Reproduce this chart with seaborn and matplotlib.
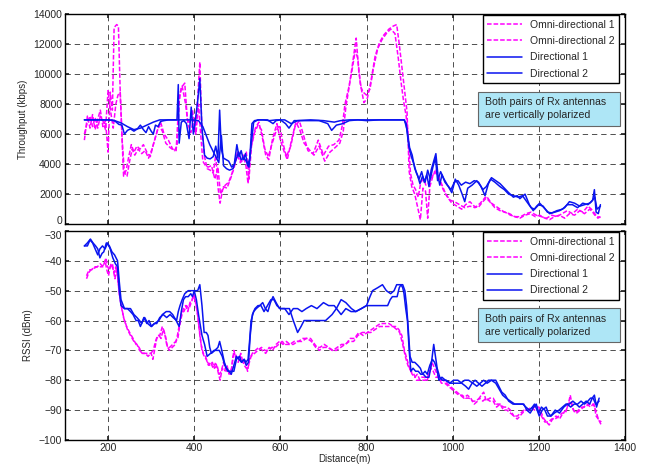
import pandas as pd
import matplotlib
matplotlib.use("Agg")
import matplotlib.pyplot as plt
from matplotlib.patches import Rectangle
import seaborn as sns

# ---------- DATA (distance m, value) ----------
thr_omni1 = [(145,5600),(152,7200),(158,6400),(164,7300),(170,6300),(176,7000),(182,7600),(188,6500),(194,6900),(200,4800),
    (205,8800),(210,7600),(214,13100),(220,13300),(224,13200),(228,9000),(232,6000),(236,3200),(242,3600),(248,4500),
    (254,5300),(260,4800),(267,5200),(274,5000),(282,5300),(290,4800),(298,4500),(306,5400),(314,6200),(322,6800),
    (330,6000),(340,5600),(350,5000),(358,4900),(364,8000),(370,9100),(378,9400),(384,7000),(390,6700),(396,7600),
    (402,6200),(408,8400),(413,10800),(418,6200),(424,4500),(430,3700),(437,3600),(444,3400),(450,4600),(455,2500),
    (460,1400),(466,2300),(472,2600),(480,2800),(488,3400),(496,4400),(502,4900),(508,4200),(514,4600),(520,3900),
    (525,2700),(530,4900),(536,5700),(542,6400),(550,6800),(558,5800),(566,4600),(573,4300),(582,5700),(592,6700),
    (600,5600),(608,4900),(616,4300),(626,5600),(636,6800),(645,6300),(655,5400),(666,5000),(678,4600),(690,5200),
    (703,4200),(715,4800),(727,5100),(738,5400),(746,6200),(752,7800),(760,9200),(768,10800),(776,12400),(782,10200),
    (788,9000),(794,8100),(802,8400),(810,9500),(820,11200),(830,12100),(840,12600),(852,13000),(862,13200),(870,13300),
    (876,12000),(882,10500),(888,9000),(894,7500),(899,3500),(905,2500),(912,2000),(918,1200),(925,300),(931,2400),
    (937,2200),(942,400),(947,2500),(954,3200),(962,3700),(970,2900),(978,2300),(988,1800),(998,1400),(1010,1200),
    (1021,1000),(1030,1300),(1040,1500),(1050,1200),(1059,1100),(1070,1500),(1080,1800),(1090,1400),(1100,1200),(1110,1000),
    (1120,800),(1132,700),(1144,500),(1156,400),(1168,600),(1180,700),(1192,500),(1202,600),(1214,400),(1225,300),
    (1236,500),(1248,600),(1260,400),(1271,700),(1283,600),(1295,900),(1306,700),(1318,1000),(1325,800),(1330,600),
    (1336,500),(1343,450)]

thr_omni2 = [(145,6000),(152,6800),(158,7200),(164,6500),(170,7100),(176,6400),(182,7200),(188,6900),(194,6300),(200,8900),
    (206,7500),(212,6400),(218,8000),(223,8600),(228,8800),(233,5500),(238,3400),(244,3200),(250,4200),(256,5000),
    (262,4600),(270,5000),(278,4700),(286,4900),(294,4400),(302,5000),(310,5800),(318,6600),(326,6200),(334,5400),
    (344,5100),(354,4900),(360,5200),(366,8600),(372,9200),(380,8000),(386,6600),(392,6100),(398,7000),(404,6000),
    (410,8000),(415,6000),(420,4200),(426,3900),(432,3800),(440,3900),(448,3000),(455,3800),(461,2000),(468,2500),
    (476,2400),(484,3000),(492,3700),(500,4600),(507,4100),(514,4300),(521,4800),(527,3000),(533,5200),(540,6100),
    (548,6600),(556,6300),(564,5000),(572,4500),(580,5300),(590,6200),(598,6600),(606,5400),(614,4500),(624,5200),
    (634,6500),(644,6900),(654,5900),(664,4900),(676,4700),(688,5600),(700,4600),(712,5200),(724,5300),(736,5600),
    (744,6600),(750,8000),(758,9000),(766,10200),(774,11600),(780,11000),(786,9200),(792,8800),(800,8600),(808,9000),
    (816,10400),(826,11700),(836,12300),(846,12700),(856,13000),(866,12700),(874,11000),(880,9500),(886,8200),(892,7200),
    (897,5800),(902,3400),(908,2600),(914,2300),(920,1800),(926,2800),(932,3000),(938,2600),(944,2700),(950,3000),
    (958,3500),(966,3200),(974,2700),(984,2000),(994,1600),(1004,1500),(1016,1300),(1028,1100),(1040,1200),(1052,1100),
    (1064,1400),(1076,1800),(1086,1500),(1098,1100),(1110,900),(1122,800),(1134,600),(1146,500),(1158,500),(1170,700),
    (1182,800),(1194,600),(1206,500),(1218,400),(1230,600),(1242,500),(1254,700),(1266,900),(1278,700),(1290,1000),
    (1302,800),(1314,1200),(1322,1000),(1330,700),(1337,400),(1343,500)]

thr_dir1 = [(145,6950),(160,6950),(180,6950),(200,6950),(215,6900),(225,6650),(232,6600),(238,6000),(245,6250),(252,6350),
    (260,6200),(268,6350),(275,6600),(282,6300),(288,6100),(294,6500),(300,6200),(305,6000),(310,6600),(316,6500),
    (322,6850),(330,6900),(340,6950),(352,6950),(360,6950),(363,9300),(365,5400),(370,6800),(376,6900),(382,6700),
    (388,5700),(393,7800),(398,6000),(403,7000),(408,8200),(413,9700),(418,6400),(424,4600),(430,4400),(437,4350),
    (444,4500),(450,5200),(455,4400),(459,7600),(463,5000),(468,4400),(474,4300),(480,4200),(487,3800),(493,4000),
    (499,5300),(504,4500),(509,4900),(514,4300),(519,4700),(524,3900),(529,4400),(534,6700),(540,6900),(550,6950),
    (570,6950),(583,6700),(590,6900),(600,6950),(612,6700),(620,6400),(632,6900),(660,6900),(690,6900),(710,6700),
    (719,6250),(730,6600),(745,6700),(760,6900),(780,6950),(800,6900),(830,6950),(860,6950),(887,6950),(892,6700),
    (898,5200),(904,4500),(910,4000),(916,3400),(922,3000),(928,3500),(934,2800),(940,3300),(945,2500),(950,3600),
    (956,4200),(961,4700),(966,3200),(970,2600),(975,3300),(982,2800),(990,2500),(998,2100),(1006,3000),(1014,2600),
    (1022,2000),(1028,1500),(1035,2400),(1045,2600),(1056,2900),(1066,2500),(1075,1900),(1083,2700),(1090,3100),(1100,2900),
    (1110,2700),(1120,2400),(1130,2100),(1141,1800),(1150,1900),(1156,1700),(1168,2000),(1178,1300),(1187,900),(1195,1200),
    (1202,1400),(1212,1100),(1225,700),(1237,800),(1248,900),(1260,1100),(1271,1500),(1283,1400),(1295,1200),(1306,1300),
    (1318,1400),(1325,1600),(1329,2300),(1333,800),(1338,700),(1343,1300)]

thr_dir2 = [(145,6950),(170,6950),(200,6950),(215,6900),(230,6750),(245,6500),(260,6300),(275,6400),(290,6600),(305,6800),
    (320,6950),(340,6950),(370,6950),(395,6950),(410,6900),(420,6500),(428,5900),(436,5300),(443,4900),(450,4500),
    (457,4100),(463,5900),(468,3900),(475,3700),(482,3600),(490,3700),(497,4300),(503,4800),(509,4300),(515,4400),
    (521,4200),(527,3800),(533,5500),(538,6800),(548,6950),(560,6950),(575,6900),(590,6950),(610,6950),(625,6700),
    (640,6900),(670,6950),(700,6900),(725,6800),(740,6900),(760,6950),(790,6950),(820,6950),(860,6950),(888,6950),
    (894,6300),(900,5100),(906,4600),(912,3700),(918,3300),(924,2700),(930,3200),(936,2800),(942,3600),(948,3000),
    (954,3800),(960,4400),(965,2900),(972,3500),(980,3000),(988,2600),(996,2300),(1004,2800),(1012,2900),(1020,2600),
    (1030,2800),(1040,2700),(1050,2900),(1060,2800),(1070,2300),(1078,2500),(1088,3000),(1098,2800),(1110,2500),(1120,2300),
    (1130,2000),(1141,1900),(1152,1800),(1162,1900),(1172,1500),(1182,1100),(1190,1000),(1200,1300),(1210,1200),(1220,800),
    (1230,750),(1242,900),(1255,1000),(1266,1300),(1278,1300),(1290,1100),(1302,1400),(1314,1300),(1322,1500),(1330,1800),
    (1335,1000),(1343,1200)]

rssi_omni1 = [(150,-46),(155,-44),(160,-43),(167,-42.5),(174,-42),(180,-42),(186,-42),(191,-41),(195,-39),(199,-42),
    (203,-43),(207,-41),(212,-43),(216,-46),(220,-42),(224,-48),(228,-53),(233,-57),(238,-60),(245,-63),
    (252,-65),(260,-67),(267,-68),(273,-70),(280,-71),(288,-71),(295,-71),(300,-71),(304,-73),(309,-69),
    (313,-66),(318,-65),(323,-66),(328,-63),(333,-65),(338,-69),(343,-69),(350,-68),(357,-67),(362,-66),
    (366,-62),(370,-59),(375,-56),(380,-55),(385,-57),(390,-54),(395,-53),(399,-51),(403,-54),(408,-58),
    (413,-65),(418,-70),(423,-72),(428,-73),(433,-75),(438,-74),(444,-76),(450,-74),(455,-77),(460,-80),
    (465,-76),(470,-77),(476,-75),(481,-78),(487,-76),(492,-70),(497,-73),(502,-74),(508,-71),(513,-74),
    (518,-74),(524,-77),(528,-73),(535,-71),(542,-70),(550,-69),(558,-70),(566,-71),(574,-69),(582,-70),
    (590,-68),(598,-67),(606,-68),(614,-67),(622,-68),(632,-67),(642,-67),(652,-66),(662,-66),(672,-67),
    (682,-69),(692,-69),(702,-68),(712,-69),(722,-70),(732,-69),(742,-68),(752,-68),(762,-66),(772,-66),
    (782,-64),(792,-65),(802,-64),(812,-63),(822,-62),(832,-61),(842,-61),(852,-61),(862,-62),(870,-63),
    (877,-64),(884,-68),(890,-72),(896,-75),(903,-77),(910,-78),(916,-80),(922,-80),(928,-79),(935,-79),
    (941,-80),(947,-77),(952,-74),(958,-76),(964,-78),(970,-80),(978,-80),(986,-81),(994,-82),(1002,-83),
    (1010,-84),(1018,-85),(1026,-86),(1034,-85),(1042,-86),(1050,-88),(1058,-87),(1066,-85),(1072,-84),(1078,-87),
    (1086,-86),(1094,-86),(1102,-88),(1110,-88),(1118,-89),(1126,-89),(1134,-90),(1142,-92),(1150,-93),(1156,-92),
    (1162,-91),(1170,-90),(1178,-90),(1186,-89),(1194,-89),(1200,-89),(1206,-91),(1212,-93),(1218,-94),(1224,-95),
    (1232,-93),(1240,-92),(1248,-93),(1256,-91),(1264,-90),(1270,-87),(1273,-85),(1278,-89),(1284,-91),(1292,-90),
    (1300,-89),(1308,-89),(1316,-88),(1322,-88),(1328,-88),(1333,-92),(1338,-93),(1345,-94)]

rssi_omni2 = [(150,-45),(156,-43),(162,-43),(168,-42),(175,-42),(182,-41),(188,-42),(193,-40),(197,-43),(201,-45),
    (205,-42),(210,-41),(214,-44),(218,-42),(222,-45),(226,-51),(231,-55),(236,-59),(243,-62),(250,-64),
    (258,-66),(265,-68),(272,-69),(279,-71),(286,-71),(293,-72),(299,-71),(305,-70),(310,-67),(315,-65),
    (320,-65),(326,-62),(331,-64),(336,-68),(342,-70),(349,-69),(356,-68),(361,-65),(366,-61),(371,-57),
    (376,-57),(382,-55),(388,-56),(393,-54),(398,-52),(402,-53),(406,-56),(411,-62),(416,-68),(421,-71),
    (426,-72),(431,-74),(436,-75),(442,-74),(447,-76),(453,-75),(458,-78),(463,-77),(468,-74),(474,-77),
    (479,-77),(485,-78),(490,-72),(495,-71),(500,-73),(506,-72),(511,-73),(516,-75),(521,-76),(526,-75),
    (532,-72),(540,-71),(548,-70),(556,-69),(564,-70),(572,-70),(580,-69),(588,-69),(596,-68),(604,-67),
    (612,-68),(620,-68),(630,-68),(640,-67),(650,-67),(660,-66),(670,-66),(680,-68),(690,-70),(700,-69),
    (710,-69),(720,-70),(730,-70),(740,-69),(750,-68),(760,-67),(770,-67),(780,-65),(790,-64),(800,-64),
    (810,-64),(820,-63),(830,-62),(840,-62),(850,-62),(860,-62),(868,-62),(875,-63),(882,-65),(888,-70),
    (894,-73),(900,-76),(906,-78),(912,-79),(918,-78),(924,-80),(930,-80),(938,-80),(944,-78),(950,-76),
    (955,-77),(961,-79),(967,-79),(974,-81),(982,-81),(990,-82),(998,-83),(1006,-84),(1014,-85),(1022,-85),
    (1030,-86),(1038,-86),(1046,-87),(1054,-87),(1062,-86),(1070,-87),(1078,-86),(1086,-87),(1094,-87),(1102,-89),
    (1110,-88),(1118,-90),(1126,-90),(1134,-91),(1142,-92),(1150,-92),(1158,-91),(1166,-90),(1174,-90),(1182,-89),
    (1190,-90),(1198,-90),(1206,-92),(1214,-94),(1222,-94),(1230,-93),(1238,-93),(1246,-92),(1254,-91),(1262,-91),
    (1268,-88),(1274,-87),(1280,-90),(1288,-91),(1296,-90),(1304,-89),(1312,-88),(1320,-89),(1326,-88),(1332,-90),
    (1338,-93),(1345,-95)]

rssi_dir1 = [(145,-35),(152,-34),(159,-32.7),(165,-34),(171,-35),(176,-36),(181,-39),(186,-37.5),(190,-37),(196,-34),
    (203,-35),(209,-37),(215,-38),(222,-40),(226,-47),(230,-53),(238,-56),(252,-56),(260,-58),(267,-59),
    (273,-60),(278,-61),(283,-59),(290,-61),(295,-60),(301,-62),(307,-61),(313,-61),(320,-59),(328,-58),
    (336,-59),(344,-58),(351,-59),(359,-60),(363,-57),(367,-55),(372,-53),(378,-51),(386,-50),(394,-50),
    (402,-50),(408,-50),(413,-48),(418,-55),(423,-64),(428,-64),(432,-65),(436,-69),(440,-71),(448,-70),
    (455,-69),(459,-67),(464,-70),(470,-74),(475,-76),(481,-77),(486,-78),(492,-75),(498,-72),(504,-73),
    (510,-74),(516,-73),(520,-74),(525,-73),(529,-66),(532,-60),(538,-57),(544,-56),(552,-55),(559,-54),
    (565,-56),(571,-57),(577,-54),(583,-52),(590,-54),(598,-56),(610,-56),(621,-56),(630,-60),(640,-64),
    (648,-62),(655,-60),(665,-60),(675,-60),(690,-60),(705,-60),(720,-58),(730,-56),(741,-53),(752,-54),
    (765,-56),(775,-57),(788,-56),(800,-55),(808,-52),(814,-50),(826,-49),(837,-48),(846,-50),(856,-51),
    (864,-50),(870,-48),(876,-48),(884,-48),(889,-50),(893,-55),(897,-63),(901,-72),(906,-74),(912,-74),
    (919,-75),(925,-76),(930,-78),(936,-77),(941,-78),(947,-75),(953,-73),(958,-74),(963,-76),(968,-80),
    (975,-79),(983,-80),(993,-81),(1002,-80),(1012,-80),(1021,-81),(1030,-82),(1037,-83),(1045,-81),(1052,-80),
    (1060,-81),(1068,-82),(1076,-81),(1083,-80),(1092,-80),(1100,-80),(1107,-82),(1114,-84),(1122,-85),(1130,-87),
    (1140,-88),(1150,-88),(1163,-88),(1170,-89),(1178,-90),(1185,-89),(1190,-88),(1196,-90),(1201,-92),(1208,-90),
    (1217,-89),(1222,-91),(1228,-92),(1236,-91),(1247,-90),(1255,-89),(1263,-88),(1271,-88),(1279,-87),(1287,-88),
    (1294,-89),(1302,-88),(1310,-87),(1318,-88),(1324,-86),(1329,-85),(1334,-89),(1340,-86)]

rssi_dir2 = [(145,-35),(152,-35),(158,-33),(164,-34),(170,-36),(176,-38),(181,-36),(187,-35),(193,-36),(199,-34),
    (205,-36),(211,-39),(217,-41),(222,-42),(226,-50),(230,-55),(238,-56),(245,-56),(252,-57),(258,-58),
    (265,-60),(270,-60),(275,-62),(281,-60),(285,-59),(292,-61),(300,-62),(308,-61),(318,-60),(326,-58),
    (335,-57),(343,-57),(350,-58),(358,-60),(365,-62),(370,-57),(375,-53),(380,-52),(386,-52),(392,-51),
    (396,-52),(400,-50),(405,-53),(410,-58),(418,-65),(424,-68),(430,-72),(438,-71),(446,-70),(452,-70),
    (458,-70),(465,-72),(471,-75),(478,-77),(485,-77),(492,-77),(498,-73),(505,-72),(510,-74),(516,-73),
    (521,-75),(526,-74),(530,-65),(535,-58),(541,-56),(548,-55),(555,-55),(562,-57),(570,-55),(578,-53),
    (585,-53),(592,-55),(600,-56),(610,-56),(620,-58),(630,-56),(640,-56),(650,-57),(660,-56),(672,-55),
    (685,-56),(700,-54),(712,-55),(725,-55),(741,-58),(752,-56),(764,-57),(775,-57),(788,-56),(800,-55),
    (813,-55),(826,-55),(838,-55),(849,-55),(855,-53),(860,-52),(866,-52),(871,-52),(876,-49),(880,-48),
    (884,-49),(887,-51),(891,-56),(895,-60),(899,-70),(903,-77),(908,-76),(914,-77),(920,-77),(926,-78),
    (932,-78),(938,-79),(945,-79),(950,-75),(956,-68),(960,-72),(964,-76),(970,-79),(976,-80),(985,-80),
    (995,-81),(1005,-81),(1018,-81),(1028,-80),(1037,-80),(1047,-81),(1056,-82),(1064,-81),(1072,-80),(1080,-81),
    (1090,-80),(1100,-81),(1108,-83),(1116,-85),(1124,-86),(1134,-87),(1144,-88),(1155,-88),(1165,-88),(1172,-90),
    (1180,-91),(1188,-89),(1194,-88),(1200,-91),(1206,-89),(1214,-90),(1220,-92),(1228,-92),(1238,-90),(1248,-91),
    (1258,-89),(1266,-88),(1274,-89),(1282,-88),(1290,-88),(1298,-87),(1306,-88),(1314,-87),(1320,-86),(1326,-86),
    (1332,-88),(1340,-87)]

series_names = ["Omni-directional 1", "Omni-directional 2", "Directional 1", "Directional 2"]
x_ticks = [200, 400, 600, 800, 1000, 1200, 1400]
thr_ticks = [0, 2000, 4000, 6000, 8000, 10000, 12000, 14000]
rssi_ticks = [-100, -90, -80, -70, -60, -50, -40, -30]
note = "Both pairs of Rx antennas\nare vertically polarized"

# ---------- STYLE ----------
sns.set_theme(style="white")
plt.rcParams["font.family"] = ["Liberation Sans", "DejaVu Sans"]
plt.rcParams["font.size"] = 7.5

MAG = "#ff00ff"
BLU = "#0a14f0"
palette = {series_names[0]: MAG, series_names[1]: MAG, series_names[2]: BLU, series_names[3]: BLU}
dashes = {series_names[0]: (3, 1.3), series_names[1]: (3, 1.3), series_names[2]: "", series_names[3]: ""}


def to_frame(parts):
    rows = []
    for name, pts in zip(series_names, parts):
        for x, y in pts:
            rows.append({"dist": x, "val": y, "series": name})
    return pd.DataFrame(rows)


thr_df = to_frame([thr_omni1, thr_omni2, thr_dir1, thr_dir2])
rssi_df = to_frame([rssi_omni1, rssi_omni2, rssi_dir1, rssi_dir2])

fig = plt.figure(figsize=(6.5, 4.69), dpi=100)
ax1 = fig.add_axes([0.1, 0.522, 0.8615, 0.448])
ax2 = fig.add_axes([0.1, 0.062, 0.8615, 0.4455])

panels = [
    (ax1, thr_df, thr_ticks, (0, 14000), "Throughput (kbps)"),
    (ax2, rssi_df, rssi_ticks, (-100, -30), "RSSI (dBm)"),
]

for ax, d, yt, ylim, ylab in panels:
    sns.lineplot(data=d, x="dist", y="val", hue="series", style="series",
                 hue_order=series_names, style_order=series_names,
                 palette=palette, dashes=dashes, estimator=None, sort=False,
                 linewidth=1.1, ax=ax)
    ax.set_xlim(100, 1400)
    ax.set_ylim(*ylim)
    ax.set_xticks(x_ticks)
    ax.set_yticks(yt)
    ax.grid(True, color="#222222", linestyle=(0, (5.5, 4)), linewidth=0.7, alpha=0.8)
    ax.set_axisbelow(True)
    ax.set_ylabel(ylab, fontsize=7)
    ax.tick_params(direction="in", length=3, labelsize=7.5, top=True, right=True,
                   bottom=True, left=True, pad=2)
    for sp in ax.spines.values():
        sp.set_color("black")
        sp.set_linewidth(1.0)
    leg = ax.legend(loc="upper right", bbox_to_anchor=(0.99, 0.995), borderaxespad=0,
                    fontsize=7.5, frameon=True, fancybox=False, edgecolor="black", framealpha=1,
                    handlelength=3.3, borderpad=0.45, labelspacing=0.6, handletextpad=0.8)
    leg.get_frame().set_linewidth(1.0)
    # note box
    ax.add_patch(Rectangle((0.7375, 0.468), 0.2536, 0.162, transform=ax.transAxes,
                           facecolor="#aee6f6", edgecolor="#666666", linewidth=0.8, zorder=5))
    ax.text(0.75, 0.549, note, transform=ax.transAxes, fontsize=7.6, va="center", ha="left",
            linespacing=1.35, zorder=6)

ax1.set_xlabel("")
ax1.set_xticklabels([])
ax2.set_xlabel("Distance(m)", fontsize=7, labelpad=1)

# keep top "0" and bottom "-30" from colliding
fig.canvas.draw()
ax1.get_yticklabels()[0].set_va("baseline")
ax2.get_yticklabels()[-1].set_va("top")

fig.savefig("out.png", dpi=100)
